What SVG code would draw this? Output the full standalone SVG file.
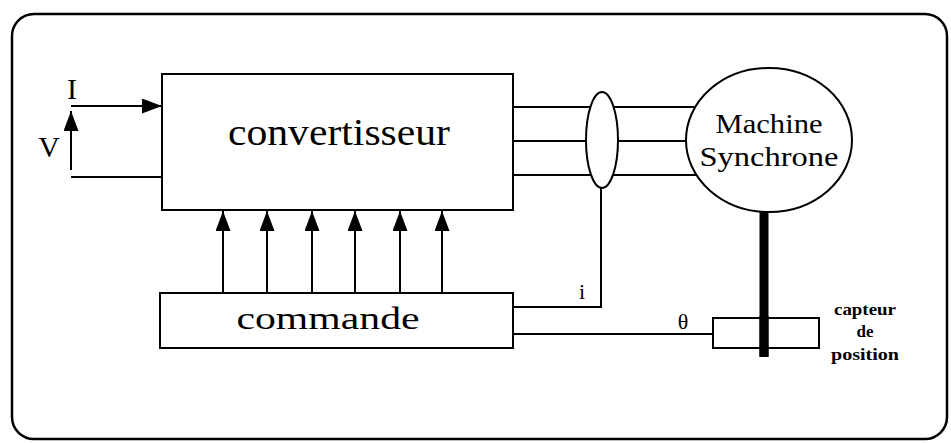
<svg xmlns="http://www.w3.org/2000/svg" width="951" height="443" viewBox="0 0 951 443">
<style>
.ln{stroke:#000;stroke-width:2;fill:none}
.bx{stroke:#000;stroke-width:2;fill:#fff}
text{font-family:'Liberation Serif','Times New Roman',serif;fill:#000}
</style>
<defs>
<marker id="ah" markerWidth="20" markerHeight="15" refX="20" refY="7.5" orient="auto" markerUnits="userSpaceOnUse">
<path d="M0,0 L20,7.5 L0,15 Z" fill="#000"/>
</marker>
</defs>
<rect x="12" y="14" width="935" height="425" rx="22" fill="#fff" stroke="#000" stroke-width="2.5"/>
<g id="connectors">
<line class="ln" x1="71" y1="106" x2="162" y2="106" marker-end="url(#ah)"/>
<line class="ln" x1="71" y1="170" x2="71" y2="111" marker-end="url(#ah)"/>
<line class="ln" x1="71" y1="177" x2="162" y2="177"/>
<line class="ln" x1="223" y1="293" x2="223" y2="211" marker-end="url(#ah)"/>
<line class="ln" x1="267" y1="293" x2="267" y2="211" marker-end="url(#ah)"/>
<line class="ln" x1="312" y1="293" x2="312" y2="211" marker-end="url(#ah)"/>
<line class="ln" x1="355" y1="293" x2="355" y2="211" marker-end="url(#ah)"/>
<line class="ln" x1="400" y1="293" x2="400" y2="211" marker-end="url(#ah)"/>
<line class="ln" x1="442" y1="293" x2="442" y2="211" marker-end="url(#ah)"/>
<line class="ln" x1="513" y1="107" x2="720" y2="107"/>
<line class="ln" x1="513" y1="141" x2="720" y2="141"/>
<line class="ln" x1="513" y1="175" x2="720" y2="175"/>
<polyline class="ln" points="513,307 601,307 601,188"/>
<line class="ln" x1="513" y1="334" x2="713" y2="334"/>
<line x1="764" y1="200" x2="764" y2="357" stroke="#000" stroke-width="9"/>
</g>
<g id="convertisseur">
<rect class="bx" x="162" y="74" width="351" height="136"/>
<text x="339" y="145" font-family="Liberation Serif, serif" font-size="37" text-anchor="middle" textLength="222" lengthAdjust="spacingAndGlyphs">convertisseur</text>
</g>
<g id="commande">
<rect class="bx" x="160" y="293" width="353" height="55"/>
<text x="328" y="329" font-family="Liberation Serif, serif" font-size="32" text-anchor="middle" textLength="183" lengthAdjust="spacingAndGlyphs">commande</text>
</g>
<g id="capteur-courant">
<ellipse class="bx" cx="602" cy="140" rx="16" ry="48"/>
</g>
<g id="machine">
<ellipse class="bx" cx="769" cy="140" rx="83" ry="72"/>
<text x="769" y="133" font-family="Liberation Serif, serif" font-size="27" text-anchor="middle" textLength="107" lengthAdjust="spacingAndGlyphs">Machine</text>
<text x="769" y="166" font-family="Liberation Serif, serif" font-size="27" text-anchor="middle" textLength="139" lengthAdjust="spacingAndGlyphs">Synchrone</text>
</g>
<g id="capteur-position">
<rect x="713" y="318" width="106" height="30" fill="none" stroke="#000" stroke-width="2"/>
<line x1="764" y1="316" x2="764" y2="357" stroke="#000" stroke-width="9"/>
<text x="865" y="315" font-family="Liberation Serif, serif" font-size="17" font-weight="bold" text-anchor="middle" textLength="62" lengthAdjust="spacingAndGlyphs">capteur</text>
<text x="865" y="337" font-family="Liberation Serif, serif" font-size="17" font-weight="bold" text-anchor="middle">de</text>
<text x="865" y="360" font-family="Liberation Serif, serif" font-size="17" font-weight="bold" text-anchor="middle" textLength="68" lengthAdjust="spacingAndGlyphs">position</text>
</g>
<g id="labels">
<text x="72" y="99" font-family="Liberation Serif, serif" font-size="30" text-anchor="middle">I</text>
<text x="49" y="157" font-family="Liberation Serif, serif" font-size="30" text-anchor="middle">V</text>
<text x="582" y="299" font-family="Liberation Serif, serif" font-size="22" text-anchor="middle">i</text>
<text x="683" y="329" font-family="Liberation Serif, serif" font-size="22" text-anchor="middle">θ</text>
</g>
</svg>
